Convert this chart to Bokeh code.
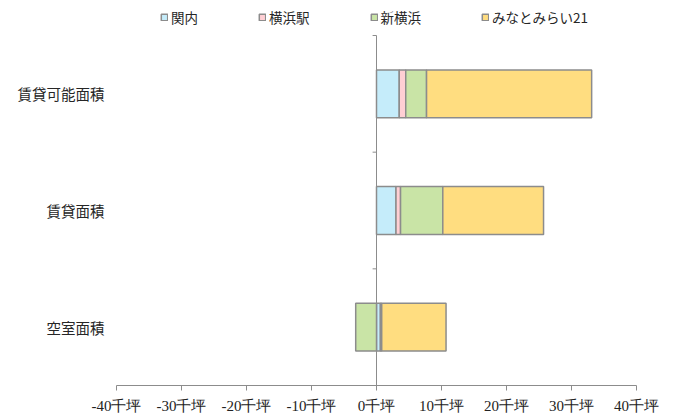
from bokeh.plotting import figure
from bokeh.models import ColumnDataSource, FixedTicker, Legend, LegendItem
from bokeh.embed import file_html
from bokeh.resources import INLINE

categories = ["賃貸可能面積", "賃貸面積", "空室面積"]
series_names = ["関内", "横浜駅", "新横浜", "みなとみらい21"]
kannai = [3.5, 3.0, 0.6]
yokohama_eki = [1.0, 0.7, 0.2]
shin_yokohama = [3.2, 6.5, -3.2]
minatomirai = [25.4, 15.5, 9.9]
colors = ["#C5ECFA", "#FFCFD4", "#C9E4A6", "#FFDD80"]
x_ticks = [-40, -30, -20, -10, 0, 10, 20, 30, 40]

series = [kannai, yokohama_eki, shin_yokohama, minatomirai]
n = len(categories)
ypos = [n - 0.5 - i for i in range(n)]

# frame spans full height above the x axis; top strip holds the legend
FRAME_H = 385
BAND_AREA_H = 350
p = figure(width=676, height=417, output_backend="svg", toolbar_location=None,
           x_range=(-40, 40), y_range=(0, n * FRAME_H / BAND_AREA_H),
           min_border_left=116, min_border_right=40, min_border_top=0, min_border_bottom=32)
p.outline_line_color = None
p.xgrid.visible = False
p.ygrid.visible = False
p.background_fill_color = "white"
p.border_fill_color = "white"

pos_acc = [0.0] * n
neg_acc = [0.0] * n
renderers = []
for name, vals, col in zip(series_names, series, colors):
    lefts, rights = [], []
    for i, v in enumerate(vals):
        if v >= 0:
            lefts.append(pos_acc[i]); rights.append(pos_acc[i] + v); pos_acc[i] += v
        else:
            lefts.append(neg_acc[i] + v); rights.append(neg_acc[i]); neg_acc[i] += v
    src = ColumnDataSource(dict(y=ypos, left=lefts, right=rights))
    r = p.hbar(y="y", left="left", right="right", height=0.41, source=src,
               fill_color=col, line_color="#8C8C8C", line_width=1.5)
    renderers.append((name, r))

# category axis drawn at zero
p.segment(x0=[0], x1=[0], y0=[0], y1=[n], line_color="#8C8C8C", line_width=1)
bounds = list(range(n + 1))
p.segment(x0=[-0.6] * len(bounds), x1=[0] * len(bounds), y0=bounds, y1=bounds,
          line_color="#8C8C8C", line_width=1)

xa = p.xaxis[0]
xa.ticker = FixedTicker(ticks=x_ticks)
xa.major_label_overrides = {t: f"{t}千坪" for t in x_ticks}
xa.axis_line_color = "#8C8C8C"
xa.major_tick_line_color = "#8C8C8C"
xa.major_tick_in = 0
xa.major_tick_out = 5
xa.minor_tick_line_color = None
xa.major_label_standoff = 7
xa.major_label_text_font = "Liberation Serif"
xa.major_label_text_font_size = "15px"
xa.major_label_text_color = "#222222"

ya = p.yaxis[0]
ya.ticker = FixedTicker(ticks=ypos)
ya.major_label_overrides = {y: c for y, c in zip(ypos, categories)}
ya.axis_line_color = None
ya.major_tick_line_color = None
ya.minor_tick_line_color = None
ya.major_label_standoff = 6
ya.major_label_text_font = "Noto Sans CJK JP"
ya.major_label_text_font_size = "14.5px"
ya.major_label_text_color = "#262626"

legend = Legend(items=[LegendItem(label=nm, renderers=[r]) for nm, r in renderers],
                orientation="horizontal", location=(44, 358),
                glyph_width=8, glyph_height=8, label_standoff=3, spacing=60,
                padding=0, margin=0, border_line_color=None, background_fill_alpha=0,
                label_text_font="Noto Sans CJK JP", label_text_font_size="13.5px",
                label_text_color="#262626")
p.add_layout(legend, "center")

open("out.html", "w").write(file_html(p, INLINE))
